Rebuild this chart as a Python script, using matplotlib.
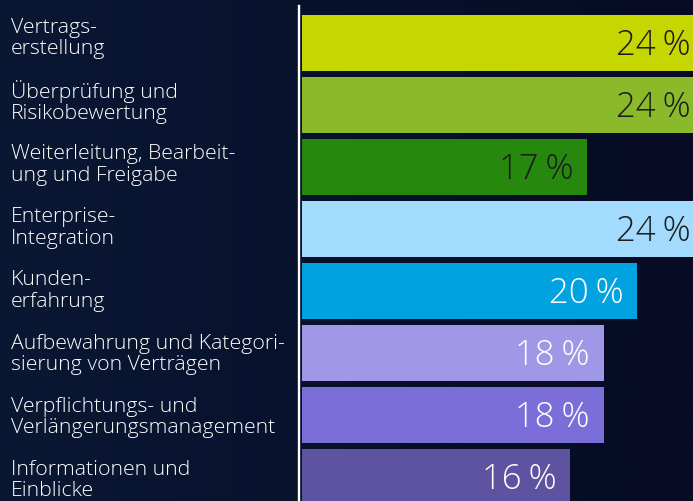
import matplotlib.pyplot as plt
import numpy as np
from matplotlib.colors import LinearSegmentedColormap
from matplotlib.transforms import blended_transform_factory

plt.rcParams['font.family'] = ['Open Sans', 'DejaVu Sans']

categories = [
    'Vertrags-\nerstellung',
    'Überprüfung und\nRisikobewertung',
    'Weiterleitung, Bearbeit-\nung und Freigabe',
    'Enterprise-\nIntegration',
    'Kunden-\nerfahrung',
    'Aufbewahrung und Kategori-\nsierung von Verträgen',
    'Verpflichtungs- und\nVerlängerungsmanagement',
    'Informationen und\nEinblicke',
]
values = [24, 24, 17, 24, 20, 18, 18, 16]
bar_colors = ['#c5d600', '#8aba2a', '#26880c', '#a3dbff',
              '#00a2e0', '#a097e6', '#7c6ed9', '#5e53a0']
text_colors = ['#1c1c1c'] * 4 + ['white'] * 4

bg = '#07102a'

fig = plt.figure(figsize=(6.93, 5.01), dpi=100, facecolor=bg)

# dark blue backdrop, a bit lighter on the left
bg_ax = fig.add_axes([0, 0, 1, 1])
bg_ax.set_axis_off()
grad = np.linspace(0, 1, 256).reshape(1, -1)
cmap = LinearSegmentedColormap.from_list('bg', ['#0a1834', '#07112c', '#070b24'])
bg_ax.imshow(grad, cmap=cmap, aspect='auto', extent=[0, 1, 0, 1])

ax = fig.add_axes([302 / 693, 0, 391 / 693, 495 / 501])
ax.set_facecolor('none')

pos = list(range(len(values)))
ax.barh(pos, values, height=0.903, color=bar_colors, zorder=2)

ax.set_xlim(0, 23.34)
ax.set_ylim(7.387, -0.597)

for s in ['top', 'right', 'bottom']:
    ax.spines[s].set_visible(False)
ax.spines['left'].set_color('white')
ax.spines['left'].set_linewidth(1.7)
ax.spines['left'].set_position(('outward', 2))
ax.set_xticks([])
ax.set_yticks([])

for p, v, tc in zip(pos, values, text_colors):
    ax.text(v - 0.82, p + 0.04, f'{v}\u2009%', ha='right', va='center',
            fontsize=25, fontweight='light', color=tc, zorder=3)

# the category text block is spaced a little wider than the bars
trans = blended_transform_factory(fig.transFigure, ax.transData)
for p, lab in zip(pos, categories):
    ax.text(11 / 693, p * 1.018 - 0.07, lab, transform=trans, ha='left', va='center',
            fontsize=15.3, fontweight='light', color='white', linespacing=1.085)

fig.savefig('out.png', dpi=100, facecolor=bg)
